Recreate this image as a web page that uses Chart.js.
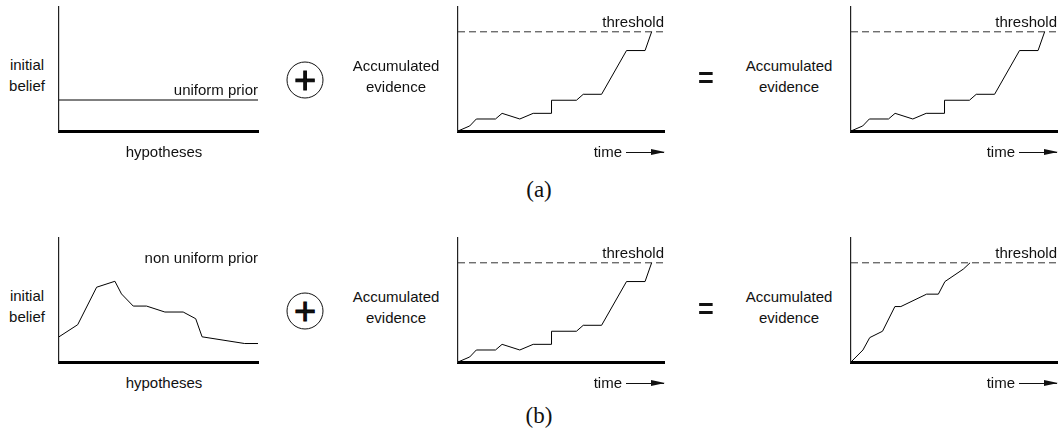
<!DOCTYPE html>
<html lang="en">
<head>
    <meta charset="UTF-8">
    <script src="https://cdn.jsdelivr.net/npm/chart.js"></script>
    <title>Prior + evidence</title>
    <style>
        body { margin: 0; background: #fff; font-family: "Liberation Sans", Arial, sans-serif; color: #111; }
        #page { position: relative; width: 1059px; height: 437px; overflow: hidden; }
        canvas { position: absolute; }
        .lbl { position: absolute; font-size: 15px; line-height: 21px; white-space: nowrap; text-align: center; }
        .c { transform: translate(-50%, -50%); }
        .r { transform: translate(-100%, -50%); text-align: right; }
        .plus { position: absolute; width: 35px; height: 35px; border: 1.3px solid #111; border-radius: 50%;
                transform: translate(-50%, -50%); text-align: center; font-size: 38px; line-height: 35px;
                font-weight: normal; -webkit-text-stroke: 0.9px #000; }
        .eq { position: absolute; font-size: 27px; font-weight: bold; transform: translate(-50%, -50%); }
        .cap { position: absolute; font-family: "Liberation Serif", "DejaVu Serif", serif; font-size: 23px; transform: translate(-50%, -50%); }
        .arrow { position: absolute; height: 1px; background: #111; }
        .arrow::after { content: ""; position: absolute; right: -1px; top: -3px; border-left: 14px solid #111;
                        border-top: 3.5px solid transparent; border-bottom: 3.5px solid transparent; }
    </style>
</head>
<body>
<div id="page"></div>
<script>
    // curves (x: 0..100 along the axis, y: threshold = 100)
    var evidenceX = [0, 5.7, 8.9, 18.2, 21.4, 30.0, 36.5, 45.4, 45.4, 57.5, 60.8, 69.7, 81.8, 90.8, 94.0];
    var evidenceY = [0, 5.1, 12.1, 12.1, 17.8, 12.1, 17.8, 17.8, 31.0, 31.0, 37.0, 37.0, 81.1, 81.1, 100];

    var combinedX = [0, 5.8, 9.1, 15.3, 21.3, 24.2, 36.7, 42.4, 45.6, 54.5, 57.8];
    var combinedY = [0, 12.1, 24.6, 31.0, 55.9, 55.9, 68.4, 68.4, 81.1, 93.6, 100];

    // priors (x: hypotheses 0..100, y: belief 0..100)
    var uniformX = [0, 100];
    var uniformY = [25, 25];
    var priorX = [0, 9.4, 18.9, 28.1, 31.4, 37.3, 44.0, 53.2, 62.4, 68.7, 71.9, 93.3, 100];
    var priorY = [20.3, 30.1, 60.3, 65.1, 54.9, 45.1, 45.1, 40.3, 40.3, 34.9, 20.3, 14.9, 14.9];

    var thresholdX = [0, 100];
    var thresholdY = [100, 100];

    var page = document.getElementById('page');

    function pts(xs, ys) {
        return xs.map(function (x, i) { return {x: x, y: ys[i]}; });
    }

    function line(xs, ys, dashed) {
        return {
            data: pts(xs, ys),
            showLine: true,
            borderColor: dashed ? '#333' : '#000',
            borderWidth: 1,
            borderDash: dashed ? [7, 4] : [],
            pointRadius: 0,
            tension: 0,
            clip: false
        };
    }

    // left/right/top/bottom = plot area edges in page pixels
    function panel(left, right, top, bottom, ymax, datasets) {
        var pad = 4;
        var cv = document.createElement('canvas');
        cv.width = right - left + 2 * pad;
        cv.height = bottom - top + 2 * pad;
        cv.style.left = (left - pad) + 'px';
        cv.style.top = (top - pad) + 'px';
        page.appendChild(cv);
        new Chart(cv.getContext('2d'), {
            type: 'scatter',
            data: {datasets: datasets},
            options: {
                responsive: false,
                animation: false,
                layout: {padding: pad},
                plugins: {legend: {display: false}, tooltip: {enabled: false}},
                scales: {
                    x: {
                        min: 0, max: 100,
                        grid: {display: false, drawTicks: false},
                        ticks: {display: false},
                        border: {display: true, color: '#000', width: 3}
                    },
                    y: {
                        min: 0, max: ymax,
                        grid: {display: false, drawTicks: false},
                        ticks: {display: false},
                        border: {display: true, color: '#222', width: 1.2}
                    }
                }
            }
        });
    }

    function label(html, x, y, cls) {
        var d = document.createElement('div');
        d.className = 'lbl ' + (cls || 'c');
        d.style.left = x + 'px';
        d.style.top = y + 'px';
        d.innerHTML = html;
        page.appendChild(d);
    }

    function extra(cls, html, x, y) {
        var d = document.createElement('div');
        d.className = cls;
        d.style.left = x + 'px';
        d.style.top = y + 'px';
        d.innerHTML = html;
        page.appendChild(d);
    }

    function arrow(x1, x2, y) {
        var d = document.createElement('div');
        d.className = 'arrow';
        d.style.left = x1 + 'px';
        d.style.width = (x2 - x1) + 'px';
        d.style.top = y + 'px';
        page.appendChild(d);
    }

    function row(dy, priorSet, priorText, priorTextY, thirdSet) {
        // prior panel
        panel(59, 258, 7 + dy, 131 + dy, 100, [priorSet]);
        label('initial<br>belief', 27, 75 + dy);
        label(priorText, 258, priorTextY + dy, 'r');
        label('hypotheses', 164, 151 + dy);

        extra('plus', '+', 305, 80 + dy);

        // evidence panel
        panel(458, 664, 7 + dy, 131 + dy, 125, [line(evidenceX, evidenceY), line(thresholdX, thresholdY, true)]);
        label('Accumulated<br>evidence', 396, 76 + dy);
        label('threshold', 664, 21 + dy, 'r');
        label('time', 622, 151 + dy, 'r');
        arrow(626, 664, 152 + dy);

        extra('eq', '=', 706, 78 + dy);

        // combined panel
        panel(851, 1057, 7 + dy, 131 + dy, 125, [thirdSet, line(thresholdX, thresholdY, true)]);
        label('Accumulated<br>evidence', 789, 76 + dy);
        label('threshold', 1057, 21 + dy, 'r');
        label('time', 1015, 151 + dy, 'r');
        arrow(1019, 1057, 152 + dy);
    }

    row(0, line(uniformX, uniformY), 'uniform prior', 89, line(evidenceX, evidenceY));
    extra('cap', '(a)', 539, 190);

    row(231, line(priorX, priorY), 'non uniform prior', 26, line(combinedX, combinedY));
    extra('cap', '(b)', 539, 416);
</script>
</body>
</html>
